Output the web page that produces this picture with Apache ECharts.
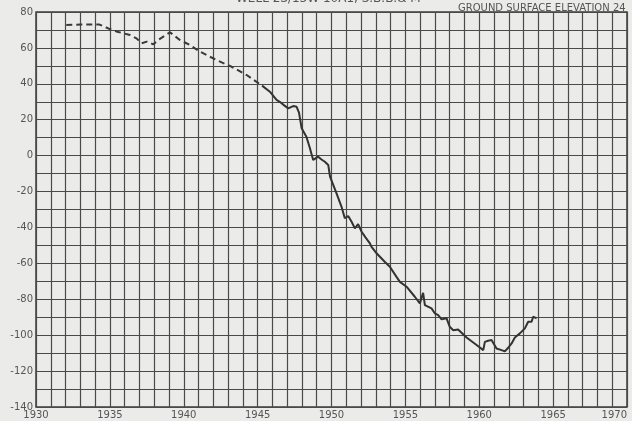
<!DOCTYPE html>
<html><head><meta charset="utf-8">
<script src="https://cdn.jsdelivr.net/npm/echarts@6/dist/echarts.min.js"></script>
<style>html,body{margin:0;padding:0;background:#ebebe9;}#c{width:632px;height:421px;}</style>
</head><body><div id="c"></div>
<script>
// Estimated (1932-1945) water level, dashed
const estYears = [1932.05,1933.0,1934.3,1935.0,1935.5,1936.36,1936.8,1937.15,1937.5,1937.94,1938.27,1939.07,1939.74,1940.42,1941.1,1942.2,1943.24,1944.26,1945.3];
const estValues = [72.8,73.0,73.0,70.5,69.0,67.2,65.3,62.6,63.5,62.0,64.4,68.7,64.4,61.6,57.9,53.3,49.5,44.9,39.0];
// Measured water level, solid
const measYears = [1945.3,1945.83,1946.28,1946.5,1946.8,1947.07,1947.41,1947.64,1947.8,1947.98,1948.3,1948.54,1948.76,1949.1,1949.3,1949.55,1949.78,1949.9,1950.34,1950.68,1950.9,1951.13,1951.36,1951.58,1951.8,1952.04,1952.3,1952.6,1952.7,1953.05,1953.6,1953.95,1954.4,1954.63,1955.08,1955.64,1955.98,1956.2,1956.32,1956.77,1957.0,1957.22,1957.45,1957.79,1958.0,1958.24,1958.57,1959.14,1959.82,1960.27,1960.38,1960.6,1960.83,1961.17,1961.51,1961.73,1961.96,1962.19,1962.41,1962.75,1963.09,1963.31,1963.54,1963.65,1963.88];
const measValues = [39.0,35.6,31.0,30.0,28.0,26.3,27.6,27.2,24.0,15.2,10.5,4.1,-2.4,-0.6,-2.0,-3.4,-5.2,-11.7,-21.0,-28.5,-34.9,-33.6,-36.8,-40.5,-38.1,-42.4,-45.5,-48.9,-50.7,-54.4,-59.1,-61.9,-67.5,-70.3,-73.0,-78.6,-82.3,-76.4,-83.2,-85.1,-87.9,-88.8,-91.2,-90.6,-95.3,-97.2,-96.8,-101.3,-105.5,-108.3,-103.7,-103.1,-102.7,-107.4,-108.3,-109.0,-107.0,-104.6,-101.3,-99.0,-96.2,-92.5,-92.5,-89.7,-90.6];
const xTickLabels = [1930,1935,1940,1945,1950,1955,1960,1965,1970];
const yTickLabels = [80,60,40,20,0,-20,-40,-60,-80,-100,-120,-140];
const titleText = 'WELL 2S/13W-10A1, S.B.B.& M';
const noteText = 'GROUND SURFACE ELEVATION 24';

const pair = (xs, ys) => xs.map((x, i) => [x, ys[i]]);
const chart = echarts.init(document.getElementById('c'));
const labelStyle = {color: '#555', fontSize: 10, fontFamily: 'DejaVu Sans, sans-serif'};
chart.setOption({
  backgroundColor: '#ebebe9',
  animation: false,
  grid: {left: 36, right: 5, top: 12, bottom: 14, outerBoundsMode: 'none', containLabel: false, show: true, borderColor: '#3c3c3c', borderWidth: 1.5, backgroundColor: 'transparent'},
  xAxis: {
    type: 'value', min: 1930, max: 1970, interval: 1,
    axisLine: {show: false}, axisTick: {show: false},
    splitLine: {show: true, lineStyle: {color: '#4a4a4a', width: 1.2}},
    axisLabel: Object.assign({margin: 3, alignMaxLabel: 'right', formatter: v => xTickLabels.includes(v) ? String(v) : ''}, labelStyle)
  },
  yAxis: {
    type: 'value', min: -140, max: 80, interval: 10,
    axisLine: {show: false}, axisTick: {show: false},
    splitLine: {show: true, lineStyle: {color: '#4a4a4a', width: 1.2}},
    axisLabel: Object.assign({margin: 3, formatter: v => yTickLabels.includes(v) ? String(v) : ''}, labelStyle)
  },
  graphic: [
    {type: 'text', left: 236, top: -7, style: {text: titleText, fill: '#555', font: '12px DejaVu Sans, sans-serif'}},
    {type: 'text', left: 458, top: 3, style: {text: noteText, fill: '#555', font: '10px DejaVu Sans, sans-serif'}}
  ],
  series: [
    {type: 'line', data: pair(estYears, estValues), showSymbol: false, lineStyle: {color: '#3a3a3a', width: 2, type: [6, 4]}},
    {type: 'line', data: pair(measYears, measValues), showSymbol: false, lineStyle: {color: '#333', width: 2}}
  ]
});
</script></body></html>
